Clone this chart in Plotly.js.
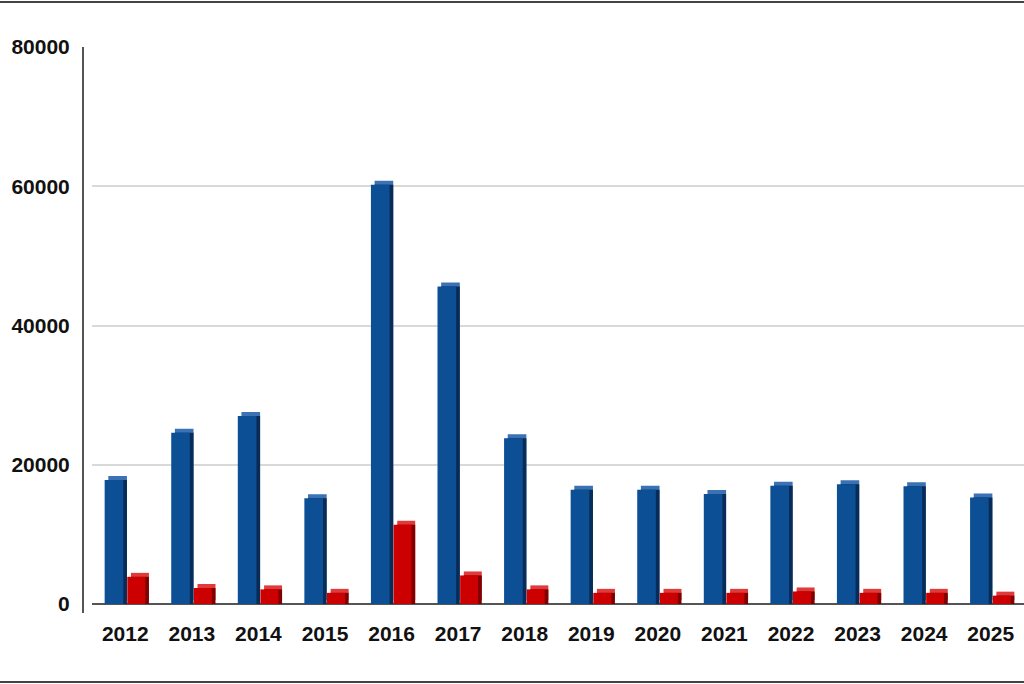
<!DOCTYPE html>
<html>
<head>
<meta charset="utf-8">
<script src="https://cdn.plot.ly/plotly-3.0.1.min.js"></script>
<style>html,body{margin:0;padding:0;background:#fff;}#chart{width:1024px;height:684px;}</style>
</head>
<body>
<div id="chart"></div>
<script>
const categories = ['2012','2013','2014','2015','2016','2017','2018','2019','2020','2021','2022','2023','2024','2025'];
const blueValues = [17800, 24600, 27000, 15200, 60200, 45600, 23800, 16400, 16400, 15800, 17000, 17200, 16900, 15300];
const redValues  = [3900, 2300, 2100, 1600, 11400, 4100, 2100, 1600, 1600, 1600, 1800, 1600, 1600, 1200];
const yTickValues = [0, 20000, 40000, 60000, 80000];
const yTickLabels = ['0', '20000', '40000', '60000', '80000'];

const W = 1024, H = 684, ML = 92, MR = 0, MT = 47, MB = 80;
const PW = W - ML - MR, PH = H - MT - MB;
const yMax = 80000;
const lift = 4 * yMax / PH;     // ~4px raise for the 3D top face
const depth = 0.055;            // ~3.5px sideways depth

function bar3d(vals, off, w, front, top, side) {
  const liftArr = vals.map(() => lift);
  const zeroArr = vals.map(() => 0);
  return [
    {type:'bar', x:categories, y:vals, base:liftArr, offset:off+depth, width:w,
     marker:{color:top, line:{width:0}}, hoverinfo:'skip', showlegend:false},
    {type:'bar', x:categories, y:vals, base:zeroArr, offset:off+depth, width:w,
     marker:{color:side, line:{width:0}}, hoverinfo:'skip', showlegend:false},
    {type:'bar', x:categories, y:vals, offset:off, width:w,
     marker:{color:front, line:{width:0}}, showlegend:false}
  ];
}

const data = [].concat(
  bar3d(blueValues, -0.31, 0.28, '#0d4f95', '#3a72b4', '#082c57'),
  bar3d(redValues, 0.03, 0.27, '#cc0000', '#e03a3a', '#7e0000')
);

const tickFont = {family: '"Liberation Sans", Arial, sans-serif', size: 21, color: '#111', weight: 'bold'};

const layout = {
  width: W, height: H,
  margin: {l: ML, r: MR, t: MT, b: MB, pad: 0},
  paper_bgcolor: '#ffffff', plot_bgcolor: '#ffffff',
  barmode: 'overlay',
  showlegend: false,
  font: {family: '"Liberation Sans", Arial, sans-serif', size: 21, color: '#111'},
  xaxis: {
    type: 'category', range: [-0.5, 13.5],
    showgrid: false, zeroline: false, showline: false,
    ticks: 'outside', ticklen: 11, tickcolor: 'rgba(0,0,0,0)',
    tickfont: tickFont,
    fixedrange: true
  },
  yaxis: {
    range: [0, yMax],
    tickvals: yTickValues, ticktext: yTickLabels,
    showgrid: true, gridcolor: '#d9d9d9', gridwidth: 2,
    zeroline: true, zerolinecolor: '#555', zerolinewidth: 2,
    showline: false,
    ticks: 'outside', ticklen: 17, tickcolor: 'rgba(0,0,0,0)',
    tickfont: tickFont,
    fixedrange: true
  },
  shapes: [
    {type:'line', xref:'paper', yref:'paper', x0:-9/PW, x1:-9/PW, y0:-9/PH, y1:1,
     line:{color:'#555', width:2}},
    {type:'line', xref:'paper', yref:'paper', x0:-ML/PW, x1:1.01, y0:(H-2-MB)/PH, y1:(H-2-MB)/PH,
     line:{color:'#444', width:2}},
    {type:'line', xref:'paper', yref:'paper', x0:-ML/PW, x1:1.01, y0:(H-682-MB)/PH, y1:(H-682-MB)/PH,
     line:{color:'#444', width:2}}
  ]
};

Plotly.newPlot('chart', data, layout, {displayModeBar: false, staticPlot: true});
</script>
</body>
</html>
